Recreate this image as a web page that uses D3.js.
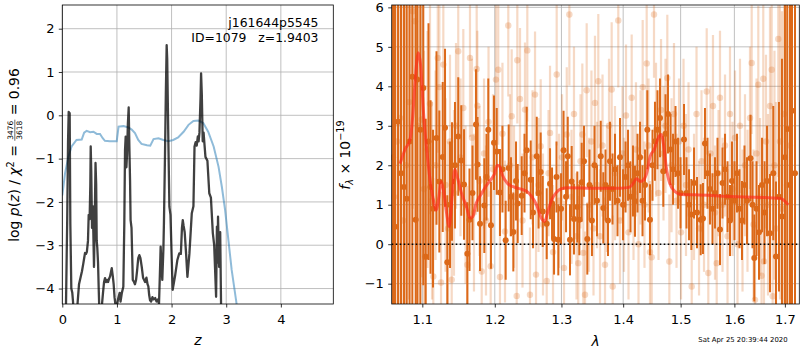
<!DOCTYPE html>
<html>
<head>
<meta charset="utf-8">
<script src="https://cdn.jsdelivr.net/npm/d3@7"></script>
<style>
  html, body { margin: 0; padding: 0; background: #fff; }
  svg text { font-family: "DejaVu Sans", sans-serif; white-space: pre; }
</style>
</head>
<body>
<svg id="fig" width="800" height="350"></svg>
<script>
// ---------- redshift panel data ----------
const zTicks = [0, 1, 2, 3, 4];
const logTicks = [-4, -3, -2, -1, 0, 1, 2];

// chi-square curve (scaled)
const chiZ = [0.0,0.05,0.11,0.17,0.26,0.355,0.40,0.445,0.51,0.57,0.63,0.69,0.74,0.78,0.87,0.996,1.03,1.12,1.21,1.27,1.33,1.39,1.45,1.55,1.61,1.67,1.76,1.85,1.94,2.03,2.12,2.22,2.31,2.40,2.49,2.58,2.67,2.77,2.86,2.92,2.98,3.04,3.10,3.18,3.25];
const chiLog = [-1.85,-1.34,-0.96,-0.72,-0.57,-0.56,-0.40,-0.36,-0.39,-0.38,-0.43,-0.43,-0.53,-0.59,-0.60,-0.60,-0.26,-0.25,-0.28,-0.33,-0.41,-0.57,-0.66,-0.69,-0.70,-0.55,-0.53,-0.57,-0.60,-0.57,-0.51,-0.38,-0.22,-0.13,-0.12,-0.18,-0.38,-0.72,-1.19,-1.65,-2.19,-2.88,-3.57,-4.27,-4.9];

// log p(z)
const pzZ = [0.065,0.09,0.105,0.117,0.135,0.147,0.165,0.183,0.196,0.21,0.27,0.306,0.337,0.36,0.385,0.40,0.416,0.434,0.45,0.47,0.483,0.50,0.513,0.52,0.53,0.544,0.557,0.568,0.58,0.593,0.608,0.62,0.63,0.64,0.654,0.667,0.678,0.71,0.745,0.764,0.782,0.80,0.82,0.837,0.855,0.874,0.905,0.923,0.94,0.956,0.985,1.02,1.05,1.066,1.09,1.117,1.135,1.148,1.16,1.173,1.185,1.20,1.215,1.227,1.24,1.25,1.267,1.29,1.313,1.33,1.35,1.368,1.39,1.41,1.43,1.454,1.478,1.496,1.515,1.54,1.56,1.575,1.59,1.606,1.625,1.65,1.67,1.70,1.725,1.75,1.77,1.79,1.80,1.817,1.83,1.85,1.86,1.88,1.895,1.91,1.92,1.94,1.96,1.98,2.00,2.02,2.065,2.106,2.14,2.17,2.19,2.205,2.22,2.24,2.266,2.29,2.326,2.37,2.40,2.42,2.44,2.46,2.48,2.495,2.51,2.53,2.54,2.553,2.57,2.586,2.604,2.62,2.656,2.69,2.72,2.755,2.78,2.815,2.83,2.84,2.85,2.87,2.89,2.906,2.92];
const pzLog = [-4.6,-2.4,-0.6,0.08,0.05,-2.5,-4.0,-4.1,-4.3,-4.6,-4.5,-3.9,-3.73,-3.6,-3.42,-3.3,-3.18,-3.2,-3.15,-2.9,-2.3,-2.4,-1.6,-0.72,-1.3,-2.6,-2.1,-2.7,-3.5,-2.5,-1.1,-1.6,-2.9,-3.05,-3.4,-4.03,-4.5,-4.6,-4.1,-3.85,-3.76,-3.85,-3.8,-3.85,-3.78,-3.72,-3.53,-3.7,-3.9,-4.2,-4.5,-4.25,-4.1,-4.3,-4.1,-3.96,-2.5,-0.8,-0.49,-1.2,-0.9,-0.2,0.18,-0.7,-1.5,-2.42,-2.6,-3.8,-3.85,-3.9,-3.8,-3.6,-3.3,-3.23,-3.3,-3.5,-3.75,-3.8,-3.85,-3.75,-3.9,-3.95,-4.15,-4.27,-4.3,-4.2,-4.25,-4.22,-4.3,-4.25,-4.35,-3.5,-3.03,-3.5,-3.8,-3.1,-2.5,-0.88,0.5,1.62,1.3,-0.5,-2.11,-2.3,-3.2,-4.03,-3.7,-3.34,-3.19,-3.2,-2.6,-2.42,-2.55,-2.7,-3.2,-3.73,-3.2,-2.26,-2.1,-0.72,-0.62,-0.7,-0.49,-0.6,-0.4,0.4,0.97,0.5,-0.6,-0.4,-0.7,-0.96,-1.05,-1.8,-1.9,-2.72,-3.0,-4.19,-2.57,-3.4,-2.34,-3.5,-2.7,-4.4,-4.8];

// ---------- spectrum panel data ----------
const waveTicks = [1.1, 1.2, 1.3, 1.4, 1.5, 1.6, 1.7];
const fluxTicks = [-1, 0, 1, 2, 3, 4, 5, 6];

// second, noisier set of spectra (drawn faint)
const lightWave = [1.0632,1.0671,1.0709,1.0748,1.0787,1.0826,1.0874,1.0904,1.0943,1.0992,
1.1022,1.1036,1.1069,1.1102,1.1129,1.1146,1.1176,1.1206,1.1227,1.1250,
1.1281,1.1311,1.1345,1.1372,1.1395,1.1426,1.1454,1.1485,1.1516,1.1555,
1.1586,1.1611,1.1648,1.1676,1.1704,1.1742,1.1751,1.1782,1.1813,1.1846,
1.1874,1.1910,1.1941,1.1974,1.2017,1.2050,1.2075,1.2111,1.2148,1.2196,
1.2221,1.2246,1.2280,1.2320,1.2329,1.2369,1.2406,1.2443,1.2478,1.2518,
1.2556,1.2594,1.2609,1.2647,1.2680,1.2715,1.2772,1.2800,1.2823,1.2869,
1.2926,1.2962,1.3009,1.3040,1.3083,1.3124,1.3158,1.3197,1.3237,1.3265,
1.3301,1.3330,1.3346,1.3373,1.3400,1.3437,1.3477,1.3510,1.3534,1.3567,
1.3588,1.3616,1.3657,1.3698,1.3731,1.3764,1.3808,1.3825,1.3863,1.3918,
1.3947,1.3989,1.4014,1.4048,1.4090,1.4144,1.4175,1.4217,1.4260,1.4295,
1.4332,1.4363,1.4401,1.4433,1.4458,1.4488,1.4528,1.4563,1.4607,1.4651,
1.4695,1.4730,1.4762,1.4798,1.4837,1.4881,1.4926,1.4971,1.5007,1.5052,
1.5097,1.5143,1.5201,1.5243,1.5289,1.5335,1.5381,1.5427,1.5477,1.5507,
1.5547,1.5594,1.5632,1.5664,1.5698,1.5726,1.5774,1.5821,1.5869,1.5916,
1.5964,1.6012,1.6060,1.6108,1.6157,1.6205,1.6254,1.6303,1.6336,1.6372,
1.6401,1.6431,1.6466,1.6500,1.6530,1.6565,1.6579,1.6619,1.6659,1.6699,
1.6733,1.6753,1.6789,1.6819,1.6866,1.6901,1.6941,1.6982,1.7043,1.7105];
const lightFlux = [1.2,2.6,3.2,0.6,2.0,3.6,5.9,5.65,3.0,3.16,
1.4,-0.31,2.4,3.56,1.1,-0.82,2.0,4.72,3.98,-0.97,
4.55,1.5,0.4,2.6,-0.9,1.3,3.0,4.89,2.2,3.45,
1.0,-0.52,4.72,2.7,0.8,4.44,3.51,1.6,-0.69,2.3,
0.6,3.1,-0.56,1.9,4.17,4.42,-0.83,2.8,0.32,5.54,
2.0,3.24,1.2,-1.31,4.66,3.68,0.6,3.41,4.91,-1.28,
2.2,3.79,-0.77,1.5,2.48,0.5,-0.93,1.8,2.82,-0.2,
4.30,1.1,2.2,-0.6,2.78,5.82,1.2,3.3,0.2,-0.48,
2.1,2.78,-0.22,-1.28,3.90,1.0,2.6,0.4,3.58,1.5,
4.13,0.2,2.5,-0.52,1.4,3.0,3.92,-1.07,1.8,5.67,
0.6,2.3,1.0,3.26,0.3,3.71,1.3,2.4,0.0,2.2,
3.98,1.0,4.58,2.5,-0.2,-0.33,5.82,2.9,1.3,3.4,
2.3,3.0,4.21,-0.44,2.0,3.3,1.1,2.6,0.3,3.0,
1.5,2.4,-1.07,1.2,3.3,0.4,2.1,1.0,3.87,-0.73,
2.3,3.5,0.8,-0.48,1.8,3.71,1.0,2.5,0.2,3.3,
1.4,2.7,0.0,3.0,0.6,2.0,1.1,3.2,4.59,0.5,
-1.41,2.3,4.04,1.2,-0.8,4.19,-0.44,2.6,1.0,3.5,
4.42,-1.32,2.0,0.4,5.2,2.6,0.9,3.3,1.5,2.5];
const lightErr = [6,6,6,5.5,5.5,5,5,5,4.5,4,
3.5,3,3,2.8,2.5,2.5,2.4,2.4,2.3,2.3,
2.3,2.2,2.2,2.2,2.1,2.1,2.1,2.1,2.0,2.0,
2.0,2.0,2.0,2.0,2.0,2.0,1.9,1.9,1.9,1.9,
1.9,1.9,1.9,1.9,1.9,1.9,1.9,1.8,1.8,1.8,
1.8,1.7,1.8,1.7,1.6,1.8,1.7,1.7,1.8,1.7,
1.7,1.6,1.8,1.7,1.7,1.8,1.7,1.6,1.7,1.7,
1.8,1.7,1.6,1.7,1.7,1.8,1.7,1.7,1.6,1.7,
1.7,1.8,1.7,1.6,1.7,1.7,1.8,1.7,1.7,1.6,
1.7,1.7,1.8,1.7,1.6,1.7,1.7,1.8,1.7,1.7,
1.6,1.7,1.7,1.8,1.7,1.6,1.7,1.7,1.8,1.7,
1.7,1.6,1.7,1.7,1.8,1.7,1.6,1.7,1.7,1.8,
1.7,1.7,1.6,1.7,1.7,1.8,1.7,1.6,1.7,1.7,
1.8,1.7,1.7,1.6,1.7,1.7,1.8,1.7,1.6,1.7,
1.7,1.8,1.7,1.7,1.6,1.7,1.7,1.8,1.7,1.7,
1.7,1.7,1.7,1.7,1.8,1.8,1.8,1.8,1.8,1.9,
1.9,1.9,2.0,2.0,2.0,2.1,2.1,2.2,2.3,2.5,
2.6,2.7,2.9,3.2,3.5,4,5,6,7,8];

// primary spectrum
const darkWave = [1.0620,1.0645,1.0684,1.0722,1.0761,1.0796,1.0833,1.0869,1.0913,1.0934,
1.0974,1.1013,1.1045,1.1082,1.1109,1.1142,1.1189,1.1227,1.1273,1.1304,
1.1335,1.1372,1.1399,1.1440,1.1485,1.1527,1.1565,1.1611,1.1641,1.1683,
1.1732,1.1754,1.1789,1.1850,1.1881,1.1907,1.1945,1.1989,1.2028,1.2075,
1.2111,1.2158,1.2202,1.2236,1.2270,1.2310,1.2335,1.2394,1.2436,1.2469,
1.2529,1.2564,1.2620,1.2648,1.2680,1.2711,1.2772,1.2823,1.2854,1.2885,
1.2923,1.2951,1.2994,1.3033,1.3072,1.3099,1.3134,1.3161,1.3197,1.3250,
1.3282,1.3320,1.3357,1.3410,1.3445,1.3485,1.3526,1.3567,1.3628,1.3670,
1.3706,1.3747,1.3780,1.3822,1.3863,1.3905,1.3947,1.3998,1.4040,1.4082,
1.4124,1.4166,1.4200,1.4243,1.4286,1.4329,1.4372,1.4412,1.4458,1.4502,
1.4545,1.4589,1.4633,1.4691,1.4730,1.4774,1.4819,1.4864,1.4908,1.4953,
1.4998,1.5061,1.5106,1.5152,1.5194,1.5243,1.5298,1.5366,1.5408,1.5445,
1.5492,1.5538,1.5585,1.5632,1.5679,1.5726,1.5774,1.5821,1.5869,1.5916,
1.5954,1.6002,1.6050,1.6098,1.6147,1.6195,1.6244,1.6313,1.6352,1.6387,
1.6431,1.6480,1.6540,1.6589,1.6639,1.6699,1.6765,1.6819,1.6880,1.6941,
1.7002,1.7049,1.7105,1.7146,1.7208];
const darkFlux = [2.2,0.44,3.1,1.8,1.45,1.15,2.6,4.24,0.62,4.17,
2.9,3.96,-0.32,2.6,1.45,0.9,2.69,1.59,2.21,2.95,
-0.46,1.0,1.59,2.0,2.73,2.12,1.51,-0.24,0.62,1.3,
3.03,2.02,0.52,0.98,1.7,2.9,0.48,2.57,2.35,1.31,
1.9,0.10,1.93,1.2,0.31,1.6,1.03,1.23,1.8,2.38,
1.63,0.8,2.23,1.3,1.83,0.83,0.52,1.53,1.04,0.13,
1.7,0.11,0.9,2.38,1.2,2.23,0.11,1.59,0.64,0.94,
0.62,1.57,2.1,0.13,1.5,0.6,2.0,1.1,2.23,0.92,
1.5,0.6,2.1,1.4,1.9,1.1,2.2,1.0,1.7,2.0,
1.2,1.6,1.09,1.8,2.2,1.1,1.5,2.90,0.62,2.0,
2.61,2.9,3.2,1.85,2.8,3.3,2.4,1.9,2.6,1.8,
1.3,2.65,1.3,1.0,0.75,1.55,0.8,0.62,0.65,2.55,
1.8,1.4,0.9,1.3,1.8,0.37,1.55,1.9,1.2,0.6,
1.6,1.1,1.8,0.9,0.6,1.5,1.1,2.18,1.0,-0.35,
0.9,0.3,1.5,0.8,1.6,0.28,1.8,-0.31,1.2,0.7,
2.2,2.92,1.5,3.38,1.8];
const darkErr = [7,7,7,7,7,7,7,7,7,7,
6,5,3.5,3,2.2,2.0,2.2,1.8,1.9,2.0,
1.7,1.6,1.5,1.6,1.5,1.4,1.4,1.3,1.3,1.2,
1.4,1.2,1.2,1.2,1.1,1.3,1.1,1.2,1.1,1.1,
1.1,1.0,1.1,1.0,1.0,1.0,1.0,1.0,1.0,1.1,
1.0,0.9,1.0,0.9,1.0,0.9,0.9,0.9,0.9,0.9,
0.9,0.9,0.9,1.0,0.9,1.0,0.9,0.9,0.9,0.9,
0.9,1.0,0.9,0.9,0.9,0.9,1.0,0.9,0.9,0.9,
0.9,0.9,1.0,0.9,0.9,0.9,1.0,0.9,0.9,0.9,
0.9,0.9,0.9,1.0,0.9,0.9,0.9,1.0,0.9,0.9,
1.0,1.0,1.0,0.9,1.0,1.0,0.9,0.9,0.9,0.9,
0.9,0.9,0.9,0.9,0.9,0.9,0.9,0.9,0.9,0.9,
0.9,0.9,0.9,0.9,0.9,0.9,0.9,0.9,0.9,0.9,
1.0,1.0,1.0,1.0,1.0,1.0,1.1,1.1,1.1,1.1,
1.2,1.2,1.2,1.3,1.4,1.5,1.7,1.9,2.4,4,
6,7,8,8,8];

// best-fit template
const modelWave = [1.0710,1.0774,1.0839,1.0874,1.0904,1.0947,1.0979,1.1013,1.1058,1.1102,1.1146,1.1182,1.1222,1.1249,1.1289,1.1325,1.1361,1.1397,1.1438,1.1469,1.1529,1.1597,1.1652,1.1688,1.1734,1.1804,1.1874,1.1945,1.1991,1.2037,1.2071,1.2108,1.2179,1.2275,1.2372,1.2469,1.2542,1.2616,1.2690,1.2741,1.2790,1.2851,1.2916,1.2993,1.3097,1.3519,1.3957,1.4099,1.4155,1.4229,1.4287,1.4333,1.4403,1.4462,1.4533,1.4605,1.4652,1.4700,1.4742,1.4803,1.4895,1.5017,1.5267,1.5907,1.6575,1.6915,1.6999,1.7068];
const modelFlux = [2.04,2.40,2.65,3.24,4.09,4.85,4.51,3.41,2.40,1.64,1.13,0.86,1.21,1.59,1.30,0.79,0.45,1.13,1.89,1.72,1.30,0.96,0.66,0.70,1.03,1.26,1.47,1.64,1.76,2.00,1.97,1.76,1.55,1.45,1.40,1.34,1.21,1.00,0.66,0.58,0.83,1.13,1.30,1.40,1.43,1.42,1.42,1.44,1.51,1.66,1.59,1.61,1.81,2.23,2.40,2.70,2.78,2.48,1.97,1.55,1.34,1.26,1.25,1.21,1.18,1.16,1.09,1.00];

// ---------- drawing ----------
const svg = d3.select("#fig");
svg.append("rect").attr("width", 800).attr("height", 350).attr("fill", "#fff");

const GRID = "#b0b0b0";
const TICK_FS = 13;
const LABEL_FS = 13.9;
const ORANGE = "#dc6919";

function makePanel(xs, ys, xTicks, yTicks, xFmt, yFmt, id) {
  const [x0, x1] = xs.range();
  const [y1, y0] = ys.range();
  const g = svg.append("g");
  g.append("g").selectAll("line").data(xTicks).join("line")
    .attr("x1", d => xs(d)).attr("x2", d => xs(d)).attr("y1", y0).attr("y2", y1)
    .attr("stroke", GRID).attr("stroke-width", 0.8);
  g.append("g").selectAll("line").data(yTicks).join("line")
    .attr("y1", d => ys(d)).attr("y2", d => ys(d)).attr("x1", x0).attr("x2", x1)
    .attr("stroke", GRID).attr("stroke-width", 0.8);
  svg.append("clipPath").attr("id", id).append("rect")
    .attr("x", x0).attr("y", y0).attr("width", x1 - x0).attr("height", y1 - y0);
  const plot = g.append("g").attr("clip-path", `url(#${id})`);
  const axG = g.append("g");
  const bx = axG.append("g").attr("transform", `translate(0,${y1})`)
    .call(d3.axisBottom(xs).tickValues(xTicks).tickFormat(xFmt)
      .tickSize(3.5).tickPadding(7).tickSizeOuter(0));
  const by = axG.append("g").attr("transform", `translate(${x0},0)`)
    .call(d3.axisLeft(ys).tickValues(yTicks).tickFormat(yFmt)
      .tickSize(3.5).tickPadding(4.3).tickSizeOuter(0));
  [bx, by].forEach(a => {
    a.attr("font-family", "DejaVu Sans").attr("font-size", TICK_FS);
    a.select(".domain").remove();
    a.selectAll(".tick line").attr("stroke", "#000").attr("stroke-width", 0.8);
    a.selectAll(".tick text").attr("fill", "#000");
  });
  return { g, plot, axG, x0, x1, y0, y1 };
}

function drawFrame(p) {
  p.axG.append("rect").attr("x", p.x0).attr("y", p.y0)
    .attr("width", p.x1 - p.x0).attr("height", p.y1 - p.y0)
    .attr("fill", "none").attr("stroke", "#000").attr("stroke-width", 0.8);
}

// rich label made of pieces (italic, sub/superscript, fraction)
function mathLabel(parent, parts, fs) {
  const g = parent.append("g");
  let x = 0;
  parts.forEach(p => {
    if (p.frac) {
      const f = fs * 0.54;
      const n = g.append("text").attr("font-size", f).attr("y", -fs * 0.42).text(p.frac[0]);
      const d = g.append("text").attr("font-size", f).attr("y", fs * 0.2).text(p.frac[1]);
      const w = Math.max(n.node().getComputedTextLength(), d.node().getComputedTextLength()) + 2;
      n.attr("x", x + w / 2).attr("text-anchor", "middle");
      d.attr("x", x + w / 2).attr("text-anchor", "middle");
      g.append("line").attr("x1", x).attr("x2", x + w)
        .attr("y1", -fs * 0.3).attr("y2", -fs * 0.3)
        .attr("stroke", "#000").attr("stroke-width", 0.6);
      x += w;
    } else {
      const small = p.sup || p.sub;
      const t = g.append("text")
        .attr("x", x)
        .attr("y", p.sup ? -fs * 0.38 : p.sub ? fs * 0.22 : 0)
        .attr("font-size", small ? fs * 0.7 : fs)
        .attr("font-style", p.it ? "italic" : null)
        .text(p.t);
      x += t.node().getComputedTextLength();
    }
  });
  g.attr("transform", `translate(${-x / 2},0)`);
  return g;
}

// ===== left panel: redshift probability =====
const zX = d3.scaleLinear().domain([0, 4.96]).range([62.3, 333.3]);
const zY = d3.scaleLinear().domain([-4.357, 2.547]).range([304, 5]);
const P1 = makePanel(zX, zY, zTicks, logTicks, d3.format("d"), d3.format("d"), "clipL");

const chiLine = d3.line().x(d => zX(d[0])).y(d => zY(d[1]));
P1.plot.append("path").datum(d3.zip(chiZ, chiLog))
  .attr("d", chiLine).attr("fill", "none")
  .attr("stroke", "#1f77b4").attr("stroke-opacity", 0.5).attr("stroke-width", 2);
P1.plot.append("path").datum(d3.zip(pzZ, pzLog))
  .attr("d", chiLine).attr("fill", "none")
  .attr("stroke", "#000").attr("stroke-opacity", 0.75).attr("stroke-width", 2.3)
  .attr("stroke-linejoin", "round");
drawFrame(P1);

P1.g.append("text").attr("x", 318.5).attr("y", 27).attr("text-anchor", "end")
  .attr("font-size", 12.4).text("j161644p5545");
P1.g.append("text").attr("x", 318.5).attr("y", 42).attr("text-anchor", "end")
  .attr("font-size", 12.4).text("ID=1079   z=1.9403");

svg.append("text").attr("x", 197.8).attr("y", 345).attr("text-anchor", "middle")
  .attr("font-size", LABEL_FS).attr("font-style", "italic").text("z");

const yl1 = svg.append("g").attr("transform", "translate(19,155) rotate(-90)");
mathLabel(yl1, [
  { t: "log " }, { t: "p", it: true }, { t: "(" }, { t: "z", it: true }, { t: ")" },
  { t: " / " }, { t: "χ", it: true }, { t: "2", sup: true }, { t: " = " },
  { frac: ["3476", "3618"] }, { t: " = 0.96" }
], LABEL_FS);

// ===== right panel: spectrum =====
const wX = d3.scaleLog().domain([1.0603, 1.7297]).range([391.7, 799.3]);
const wY = d3.scaleLinear().domain([-1.515, 6.06]).range([304, 5]);
const P2 = makePanel(wX, wY, waveTicks, fluxTicks, d3.format(".1f"), d3.format("d"), "clipR");

function errorSet(layer, wave, flux, err, opacity, r, w) {
  const data = d3.zip(wave, flux, err);
  const s = layer.append("g");
  s.selectAll("line").data(data).join("line")
    .attr("x1", d => wX(d[0])).attr("x2", d => wX(d[0]))
    .attr("y1", d => wY(d[1] - d[2])).attr("y2", d => wY(d[1] + d[2]))
    .attr("stroke", ORANGE).attr("stroke-opacity", opacity).attr("stroke-width", w);
  s.selectAll("circle").data(data).join("circle")
    .attr("cx", d => wX(d[0])).attr("cy", d => wY(d[1])).attr("r", r)
    .attr("fill", ORANGE).attr("fill-opacity", opacity);
}
errorSet(P2.plot, lightWave, lightFlux, lightErr, 0.25, 3.2, 2.2);
errorSet(P2.plot, darkWave, darkFlux, darkErr, 1, 3, 2.0);

P2.plot.append("line").attr("x1", 391.7).attr("x2", 799.3)
  .attr("y1", wY(0)).attr("y2", wY(0))
  .attr("stroke", "#000").attr("stroke-width", 1.6).attr("stroke-dasharray", "1.6,2.4");

P2.plot.append("path").datum(d3.zip(modelWave, modelFlux))
  .attr("d", d3.line().x(d => wX(d[0])).y(d => wY(d[1])).curve(d3.curveMonotoneX))
  .attr("fill", "none").attr("stroke", "#ff2a1a").attr("stroke-opacity", 0.65)
  .attr("stroke-width", 3).attr("stroke-linejoin", "round");
drawFrame(P2);

svg.append("text").attr("x", 595.5).attr("y", 346).attr("text-anchor", "middle")
  .attr("font-size", LABEL_FS).attr("font-style", "italic").text("λ");

const yl2 = svg.append("g").attr("transform", "translate(349.5,155) rotate(-90)");
mathLabel(yl2, [
  { t: "f", it: true }, { t: "λ", it: true, sub: true }, { t: " × 10" }, { t: "−19", sup: true }
], LABEL_FS);

svg.append("text").attr("x", 698.3).attr("y", 342).attr("font-size", 6.9)
  .text("Sat Apr 25 20:39:44 2020");
</script>
</body>
</html>
